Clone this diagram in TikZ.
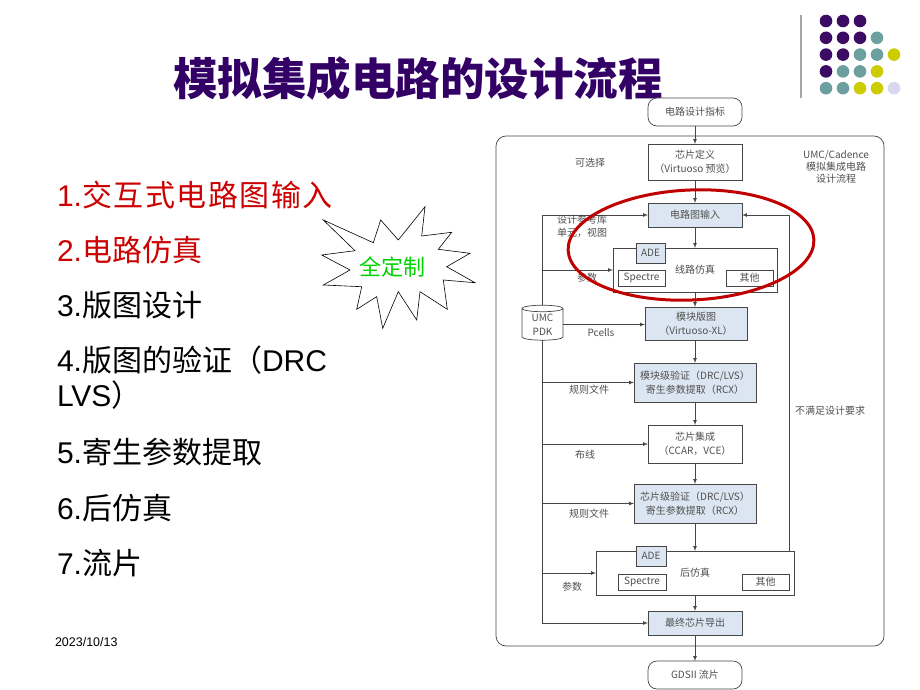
\documentclass[tikz,border=0pt]{standalone}
\usepackage{fontspec}
\setmainfont{Liberation Sans}
\newfontfamily\cjk{Noto Sans CJK SC}
\newfontfamily\cjkwide[LetterSpace=5]{Noto Sans CJK SC}
\usetikzlibrary{positioning,calc,shapes.geometric}
\definecolor{titlepurple}{RGB}{51,0,102}
\definecolor{dotpurple}{RGB}{60,12,100}
\definecolor{dotteal}{RGB}{108,160,160}
\definecolor{dotyellow}{RGB}{204,204,0}
\definecolor{dotlav}{RGB}{216,216,240}
\definecolor{listred}{RGB}{204,0,0}
\definecolor{boxblue}{RGB}{220,230,242}
\definecolor{linegray}{RGB}{70,70,70}
\definecolor{textgray}{RGB}{80,80,80}
\definecolor{burstgreen}{RGB}{0,210,0}
\definecolor{ringred}{RGB}{192,0,0}
\newcommand{\flowfont}{\cjk\fontsize{10}{14}\selectfont}
\newcommand{\listfont}{\cjk\fontsize{30}{30}\selectfont}

\begin{document}
\begin{tikzpicture}[x=1pt,y=-1pt,
				every node/.style={inner sep=0pt,outer sep=0pt},
				box/.style={draw=linegray,fill=white,line width=0.7pt,align=center,font=\flowfont,text=textgray},
				bluebox/.style={box,fill=boxblue},
				pill/.style={box,rounded corners=9pt,minimum width=94,minimum height=28},
				tag/.style={font=\flowfont,text=textgray,align=center},
				item/.style={anchor=west,font=\listfont},
				flow/.style={draw=linegray,line width=0.7pt,-latex}]
				\fill[white] (0,0) rectangle (920,690);
				\useasboundingbox (0,0) rectangle (920,690);

				\draw[gray!70,line width=2pt] (801,15) -- (801,98);
				\foreach \col/\row/\clr in {0/0/dotpurple,1/0/dotpurple,2/0/dotpurple,
						0/1/dotpurple,1/1/dotpurple,2/1/dotpurple,3/1/dotteal,
						0/2/dotpurple,1/2/dotpurple,2/2/dotteal,3/2/dotteal,4/2/dotyellow,
						0/3/dotpurple,1/3/dotteal,2/3/dotteal,3/3/dotyellow,
						0/4/dotteal,1/4/dotteal,2/4/dotyellow,3/4/dotyellow,4/4/dotlav}
					\fill[\clr] (826+17*\col,21+16.8*\row) circle[radius=6.3];

				\node (title) [text=titlepurple,font={\cjk\bfseries\fontsize{44.5}{44.5}\selectfont}] at (418,79) {模拟集成电路的设计流程};

				\node (i1) [item,text=listred] at (57,195) {{\rmfamily 1.}{\cjkwide 交互式电路图输入}};
				\node (i2) [item,text=listred] at (57,250) {{\rmfamily 2.}电路仿真};
				\node (i3) [item] at (57,305) {{\rmfamily 3.}版图设计};
				\node (i4) [item] at (57,360) {{\rmfamily 4.}版图的验证（{\rmfamily DRC}};
				\node (i4b) [item] at (57,395) {{\rmfamily LVS}）};
				\node (i5) [item] at (57,452) {{\rmfamily 5.}寄生参数提取};
				\node (i6) [item] at (57,508) {{\rmfamily 6.}后仿真};
				\node (i7) [item] at (57,563) {{\rmfamily 7.}流片};
				\node (date) [anchor=west,font=\fontsize{12.5}{12.5}\selectfont] at (55,642) {2023/10/13};

				\draw[black,fill=white,line width=0.6pt] (323.3,220) -- (373.3,242.7) -- (380.7,220) -- (398.3,240) -- (425,206.7)
					-- (421.7,236) -- (451.7,232.3) -- (438.3,249.3) -- (470,253.3) -- (446.7,266.7) -- (475,282.7)
					-- (443.3,280) -- (447.3,309.3) -- (420,291.7) -- (416.7,320) -- (398.3,291.7) -- (382.7,328.3)
					-- (376.7,296.7) -- (356.7,309.3) -- (361.7,286.7) -- (323.3,285) -- (350,270) -- (321.7,255)
					-- (355,250.7) -- cycle;
				\node (burst) [text=burstgreen,font={\cjk\fontsize{22}{22}\selectfont}] at (392,267) {全定制};

				\draw[linegray,line width=0.7pt,rounded corners=10pt] (496,136) rectangle (884,646);

				\node (spec)    [pill]    at (695,112)   {电路设计指标};
				\node (chipdef) [box,minimum width=94,minimum height=36]  at (695,162)   {芯片定义\\（Virtuoso 预览）};
				\node (schem)   [bluebox,minimum width=94,minimum height=24] at (695,215) {电路图输入};
				\node (cirsim)  [box,minimum width=164,minimum height=44] at (695,270)  {线路仿真};
				\node (cirade)  [bluebox,minimum width=29,minimum height=20] at (650.5,253) {ADE};
				\node (cirspec) [box,minimum width=47,minimum height=16] at (641.5,278) {Spectre};
				\node (ciroth)  [box,minimum width=47,minimum height=16] at (749.5,278) {其他};
				\node (layout)  [bluebox,minimum width=102,minimum height=33] at (696,323.5) {模块版图\\（Virtuoso-XL）};
				\node (pdk)     [cylinder,shape border rotate=90,aspect=0.3,draw=linegray,fill=white,line width=0.7pt,
					minimum width=41,minimum height=35,align=center,font=\flowfont,text=textgray] at (542.5,324.5) {UMC\\PDK};
				\node (blkver)  [bluebox,minimum width=122,minimum height=39] at (695,382.5) {模块级验证（DRC/LVS）\\寄生参数提取（RCX）};
				\node (chipint) [box,minimum width=94,minimum height=38] at (695,444) {芯片集成\\（CCAR，VCE）};
				\node (chipver) [bluebox,minimum width=122,minimum height=39] at (695,503.5) {芯片级验证（DRC/LVS）\\寄生参数提取（RCX）};
				\node (postsim) [box,minimum width=198,minimum height=44] at (695,573) {后仿真};
				\node (postade) [bluebox,minimum width=30,minimum height=20] at (651,556) {ADE};
				\node (postspec) [box,minimum width=48,minimum height=16] at (642,582) {Spectre};
				\node (postoth) [box,minimum width=47,minimum height=16] at (765.5,582) {其他};
				\node (final)   [bluebox,minimum width=94,minimum height=24] at (695,623) {最终芯片导出};
				\node (gds)     [pill]    at (695,675)   {GDSII 流片};
				\coordinate (loop) at (789,551);

				\node (tsel)   [tag] at (590,163) {可选择};
				\node (tumc)   [tag,font={\cjk\fontsize{10}{12}\selectfont}] at (836,167) {UMC/Cadence\\模拟集成电路\\设计流程};
				\node (tlib)   [tag,anchor=west,align=left,font={\cjk\fontsize{10}{13}\selectfont}] at (557,226.5) {设计参考库\\单元，视图};
				\node (tpar1)  [tag] at (587,278) {参数};
				\node (tpcell) [tag] at (601,333) {Pcells};
				\node (trule1) [tag] at (589,390) {规则文件};
				\node (troute) [tag] at (585,455) {布线};
				\node (trule2) [tag] at (589,514) {规则文件};
				\node (tpar2)  [tag] at (572,587) {参数};
				\node (tfail)  [tag] at (830,411) {不满足设计要求};

				\draw[flow] (spec) -- (chipdef);
				\draw[flow] (chipdef) -- (schem);
				\draw[flow] (schem) -- (cirsim);
				\draw[flow] (cirsim.south) -- (cirsim.south |- layout.north);
				\draw[flow] (layout.south -| blkver.north) -- (blkver.north);
				\draw[flow] (blkver) -- (chipint);
				\draw[flow] (chipint) -- (chipver);
				\draw[flow] (chipver) -- (postsim);
				\draw[flow] (postsim) -- (final);
				\draw[flow] (final) -- (gds);

				\draw[flow] (pdk.north) |- (schem.west);
				\draw[flow] (pdk.south) |- (final.west);
				\draw[flow] (pdk.north |- cirsim.west) -- (cirsim.west);
				\draw[flow] (pdk.east) -- (pdk.east -| layout.west);
				\draw[flow] (pdk.south |- blkver.west) -- (blkver.west);
				\draw[flow] (pdk.south |- chipint.west) -- (chipint.west);
				\draw[flow] (pdk.south |- chipver.west) -- (chipver.west);
				\draw[flow] (pdk.south |- postsim.west) -- (postsim.west);
				\draw[flow] (loop) |- (schem.east);

				\draw[ringred,line width=3pt,rotate around={2.5:(691,245)}] (691,245) ellipse [x radius=123,y radius=55];
			\end{tikzpicture}
\end{document}
